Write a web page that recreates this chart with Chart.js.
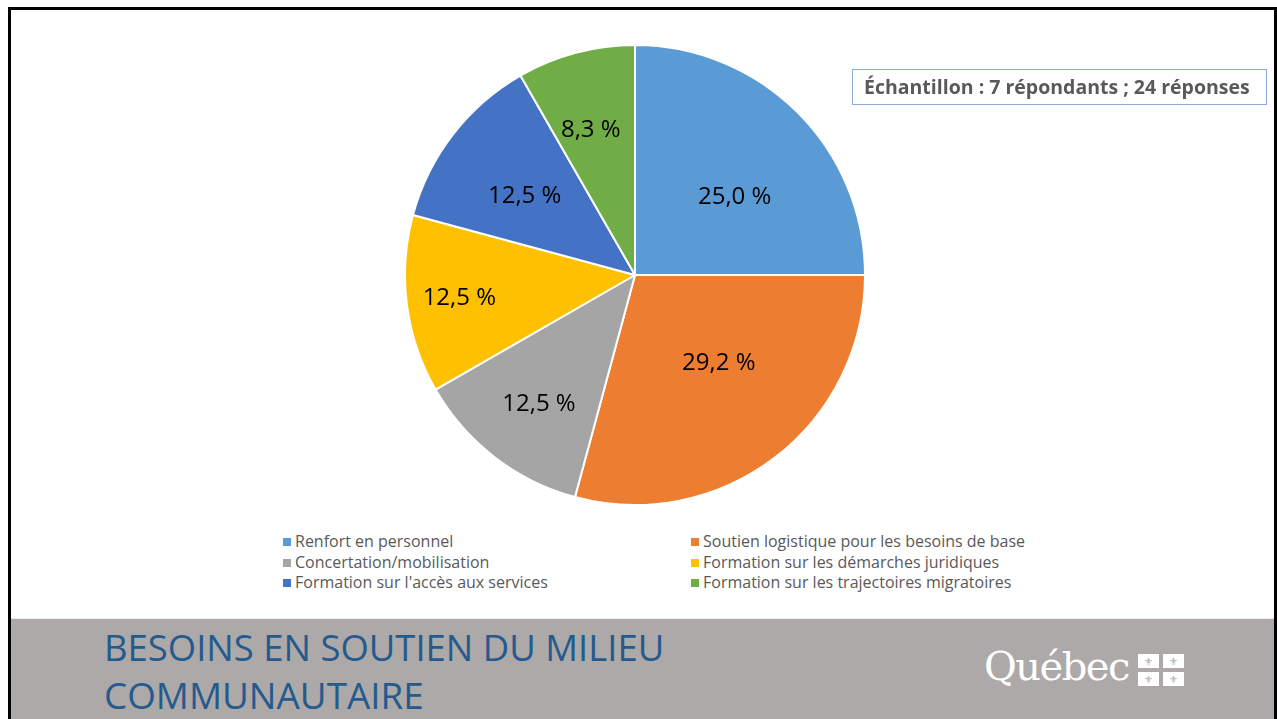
<!DOCTYPE html>
<html lang="fr">
<head>
<meta charset="utf-8">
<script src="https://cdn.jsdelivr.net/npm/chart.js@4.4.1/dist/chart.umd.min.js"></script>
<style>
  html, body { margin: 0; padding: 0; background: #fff; }
  body { width: 1277px; height: 719px; position: relative; overflow: hidden; font-family: "Open Sans", sans-serif; }
  #frame { position: absolute; left: 8px; top: 7px; width: 1263px; height: 720px; border: 3px solid #000; border-bottom: none; }
  #chartBox { position: absolute; left: 404px; top: 44px; width: 462px; height: 462px; }
  #sample { position: absolute; left: 852px; top: 69px; width: 415px; height: 36px; border: 1px solid #8eaadb; box-sizing: border-box;
            font-weight: bold; font-size: 19.5px; color: #595959; line-height: 33px; padding-left: 11px; white-space: nowrap; }
  #legend { position: absolute; left: 283px; top: 531px; width: 780px; }
  .item { position: absolute; font-size: 16px; color: #595959; white-space: nowrap; line-height: 20px; }
  .item i { display: inline-block; width: 8px; height: 8px; margin-right: 4px; vertical-align: 1px; }
  #band { position: absolute; left: 11px; top: 618px; width: 1263px; height: 101px; background: #ada9a8; border-top: 1px solid #ececec; }
  .title { position: absolute; left: 93px; font-size: 36px; color: #245a8e; white-space: nowrap; transform-origin: 0 0; }
  #logo { position: absolute; left: 973px; top: 24px; color: #fff; font-family: "DejaVu Serif", serif; font-size: 40px; white-space: nowrap; letter-spacing: -1.5px; }
  #flags { position: absolute; left: 1127px; top: 35px; width: 50px; height: 33px; }
  #flags span { position: absolute; width: 21px; height: 14px; background: #fff; color: #ada9a8; font-size: 10px; line-height: 14px; text-align: center; }
</style>
</head>
<body>
<div id="frame"></div>
<div id="chartBox"><canvas id="pie"></canvas></div>
<div id="sample">Échantillon : 7 répondants ; 24 réponses</div>
<div id="legend"></div>
<div id="band">
  <div class="title" id="t1" style="top:4px">BESOINS EN SOUTIEN DU MILIEU</div>
  <div class="title" id="t2" style="top:52px">COMMUNAUTAIRE</div>
  <div id="logo">Québec</div>
  <div id="flags">
    <span style="left:0;top:0">⚜</span><span style="left:25px;top:0">⚜</span>
    <span style="left:0;top:18px">⚜</span><span style="left:25px;top:18px">⚜</span>
  </div>
</div>
<script>
const categories = [
  "Renfort en personnel",
  "Soutien logistique pour les besoins de base",
  "Concertation/mobilisation",
  "Formation sur les démarches juridiques",
  "Formation sur l'accès aux services",
  "Formation sur les trajectoires migratoires"
];
const percentages = [25.0, 29.2, 12.5, 12.5, 12.5, 8.3];
const colors = ["#5b9bd5", "#ed7d31", "#a5a5a5", "#ffc000", "#4472c4", "#70ad47"];
// label placement: fraction of radius and a small turn (degrees) off the slice middle
const labelRadius = [0.55, 0.53, 0.70, 0.77, 0.59, 0.66];
const labelTurn = [7, -6, -1, 0, -2, -2];

const legend = document.getElementById("legend");
categories.forEach((c, i) => {
  const d = document.createElement("div");
  d.className = "item";
  d.style.left = (i % 2 === 0 ? 0 : 408) + "px";
  d.style.top = (Math.floor(i / 2) * 20.5) + "px";
  d.innerHTML = '<i style="background:' + colors[i] + '"></i>' + c;
  legend.appendChild(d);
});

// squeeze the title lines to the width of the original
function fit(id, w) {
  const el = document.getElementById(id);
  el.style.transform = "scaleX(" + (w / el.offsetWidth) + ")";
}
fit("t1", 560);
fit("t2", 320);

const sliceLabels = {
  id: "sliceLabels",
  afterDatasetsDraw(chart) {
    const ctx = chart.ctx;
    const meta = chart.getDatasetMeta(0);
    ctx.save();
    ctx.font = "24px 'Open Sans'";
    ctx.fillStyle = "#000";
    ctx.textAlign = "center";
    ctx.textBaseline = "middle";
    meta.data.forEach((arc, i) => {
      const p = arc.getProps(["x", "y", "startAngle", "endAngle", "outerRadius"], true);
      const mid = (p.startAngle + p.endAngle) / 2 + labelTurn[i] * Math.PI / 180;
      const r = p.outerRadius * labelRadius[i];
      const txt = percentages[i].toFixed(1).replace(".", ",") + " %";
      ctx.fillText(txt, p.x + Math.cos(mid) * r, p.y + Math.sin(mid) * r);
    });
    ctx.restore();
  }
};

new Chart(document.getElementById("pie"), {
  type: "pie",
  data: {
    labels: categories,
    datasets: [{
      data: percentages,
      backgroundColor: colors,
      borderColor: "#fff",
      borderWidth: 2
    }]
  },
  options: {
    responsive: true,
    maintainAspectRatio: false,
    animation: false,
    layout: { padding: 0 },
    plugins: {
      legend: { display: false },
      tooltip: { enabled: false }
    }
  },
  plugins: [sliceLabels]
});
</script>
</body>
</html>
